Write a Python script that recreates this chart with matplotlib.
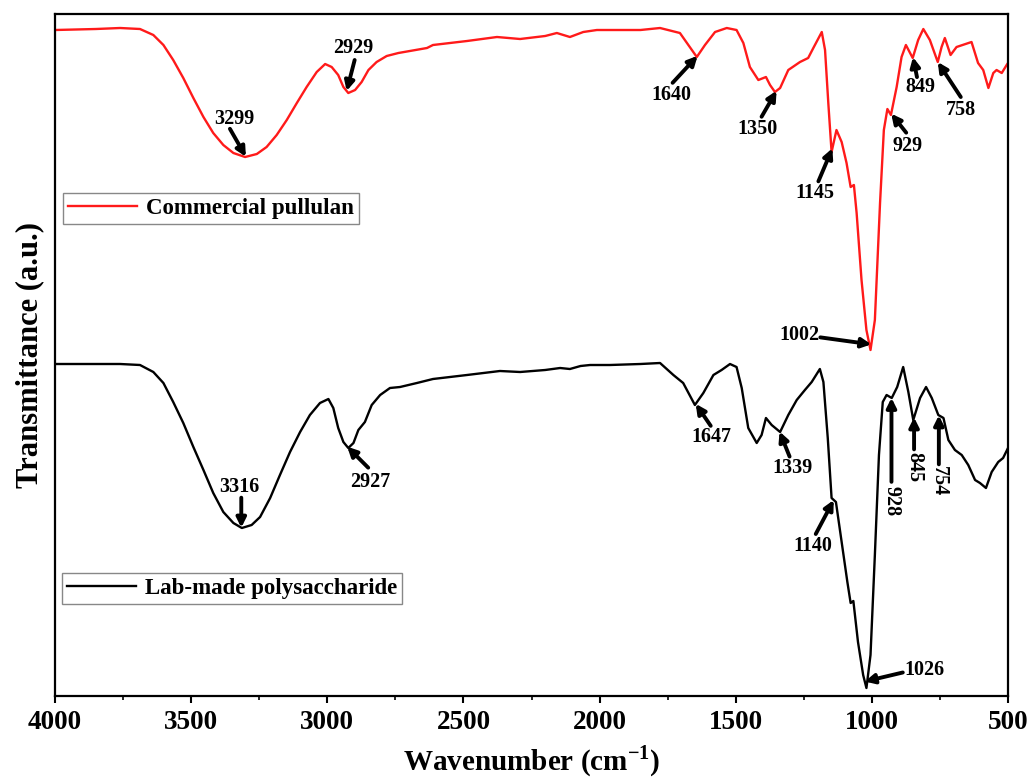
import numpy as np
import matplotlib
matplotlib.use("Agg")
import matplotlib.pyplot as plt

plt.rcParams['font.family'] = ['Liberation Serif', 'DejaVu Serif']
plt.rcParams['font.weight'] = 'bold'
plt.rcParams['mathtext.fontset'] = 'custom'
plt.rcParams['mathtext.rm'] = 'Liberation Serif:bold'
plt.rcParams['mathtext.bf'] = 'Liberation Serif:bold'

# ---- Data (arbitrary transmittance units) ----
pullulan_wn = [4000, 3850, 3761, 3688, 3639, 3602, 3566, 3529, 3492, 3455, 3419, 3382,
               3345, 3302, 3259, 3223, 3186, 3149, 3112, 3076, 3039, 3008, 2984, 2960,
               2941, 2923, 2898, 2874, 2849, 2819, 2782, 2739, 2634, 2612, 2487, 2377,
               2292, 2200, 2157, 2109, 2060, 2010, 1962, 1850, 1778, 1705, 1674, 1643,
               1613, 1576, 1533, 1497, 1472, 1448, 1417, 1389, 1374, 1356, 1337, 1307,
               1264, 1234, 1215, 1184, 1172, 1160, 1148, 1130, 1111, 1093, 1078, 1066,
               1056, 1038, 1020, 1005, 989, 970, 956, 943, 930, 909, 891, 875, 850,
               830, 811, 787, 758, 744, 732, 711, 689, 634, 610, 591, 572, 554, 542,
               523, 505, 500]
pullulan_t = [666, 667, 668, 667, 661, 651, 636, 618, 598, 579, 563, 551,
              543, 539, 542, 549, 561, 576, 593, 609, 624, 632, 629, 621,
              609, 603, 606, 614, 626, 634, 640, 643, 648, 651, 655, 659,
              657, 660, 663, 659, 664, 666, 666, 666, 668, 663, 651, 639,
              651, 664, 668, 666, 653, 629, 616, 619, 611, 604, 608, 626,
              634, 638, 648, 664, 646, 593, 544, 566, 554, 533, 509, 511,
              483, 416, 366, 346, 376, 493, 566, 587, 581, 609, 639, 651, 638,
              656, 667, 656, 634, 649, 658, 641, 649, 654, 633, 626, 608, 623, 626,
              623, 631, 633]

labmade_wn = [4000, 3850, 3761, 3688, 3639, 3602, 3566, 3529, 3492, 3455, 3419, 3382,
              3345, 3314, 3278, 3247, 3210, 3174, 3137, 3100, 3064, 3027, 2996, 2978,
              2960, 2941, 2923, 2904, 2886, 2862, 2837, 2806, 2770, 2733, 2671, 2612,
              2487, 2366, 2292, 2200, 2145, 2109, 2070, 2035, 1962, 1850, 1778, 1729,
              1693, 1650, 1619, 1582, 1552, 1521, 1497, 1478, 1454, 1423, 1405, 1389,
              1368, 1337, 1307, 1276, 1246, 1221, 1191, 1178, 1162, 1148, 1132, 1111,
              1090, 1078, 1068, 1051, 1032, 1020, 1005, 989, 974, 960, 946, 927, 907,
              885, 866, 848, 823, 801, 780, 756, 737, 719, 695, 670, 646, 621, 603,
              581, 560, 536, 518, 500]
labmade_t = [332, 332, 332, 331, 324, 313, 294, 273, 249, 226, 203, 184,
             173, 168, 171, 179, 198, 221, 244, 264, 281, 293, 297, 288,
             268, 254, 248, 253, 266, 274, 291, 301, 308, 309, 313, 317,
             321, 325, 324, 326, 328, 327, 330, 331, 331, 332, 333, 321,
             313, 291, 303, 321, 326, 332, 329, 308, 268, 253, 261, 278,
             271, 264, 281, 296, 306, 314, 327, 314, 258, 198, 194, 154,
             114, 93, 95, 54, 21, 8, 41, 141, 241, 294, 301, 298, 309,
             329, 304, 276, 298, 309, 298, 281, 278, 256, 246, 241, 231, 216, 213,
             208, 224, 234, 238, 248]

x_ticks = [4000, 3500, 3000, 2500, 2000, 1500, 1000, 500]
x_label = r'Wavenumber (cm$^{\mathregular{-1}}$)'
y_label = 'Transmittance (a.u.)'
series_names = ['Commercial pullulan', 'Lab-made polysaccharide']

# peak labels: (label, wavenumber, text offset px, arrow-tail offset px, ha, va, rotation)
pullulan_peaks = [
    ('3299', 3299, (-12, 38), (-16, 28), 'center', 'center', 0),
    ('2929', 2929, (7, 43), (8, 31), 'center', 'center', 0),
    ('1640', 1640, (-26, -39), (-25, -27), 'center', 'center', 0),
    ('1350', 1350, (-19, -38), (-15, -26), 'center', 'center', 0),
    ('1145', 1145, (-18, -45), (-14, -33), 'center', 'center', 0),
    ('1002', 1002, (-52, 9), (-51, 7), 'right', 'center', 0),
    ('929', 929, (16, -32), (15, -19), 'center', 'center', 0),
    ('849', 849, (7, -30), (4, -20), 'center', 'center', 0),
    ('758', 758, (23, -48), (23, -35), 'center', 'center', 0),
]
labmade_peaks = [
    ('3316', 3316, (-2, 41), (0, 30), 'center', 'center', 0),
    ('2927', 2927, (23, -35), (21, -21), 'center', 'center', 0),
    ('1647', 1647, (16, -33), (15, -22), 'center', 'center', 0),
    ('1339', 1339, (13, -36), (10, -25), 'center', 'center', 0),
    ('1140', 1140, (-21, -46), (-18, -34), 'center', 'center', 0),
    ('1026', 1026, (40, 11), (38, 9), 'left', 'center', 0),
    ('928', 928, (0, -88), (0, -84), 'center', 'top', -90),
    ('845', 845, (0, -35), (0, -32), 'center', 'top', -90),
    ('754', 754, (0, -51), (0, -49), 'center', 'top', -90),
]

fig = plt.figure(figsize=(10.29, 7.78), dpi=100)
ax = fig.add_axes([0.0535, 0.1054, 0.9261, 0.8766])

l1, = ax.plot(pullulan_wn, pullulan_t, color='#ff1a1a', lw=1.7, label=series_names[0])
l2, = ax.plot(labmade_wn, labmade_t, color='black', lw=1.7, label=series_names[1])

ax.set_xlim(4000, 500)
ax.set_ylim(0, 682)
ax.set_xticks(x_ticks)
ax.set_xticklabels([str(t) for t in x_ticks])
ax.set_xticks(np.arange(3750, 500, -500), minor=True)
ax.set_yticks([])
ax.tick_params(axis='x', which='major', direction='out', length=5, width=1.5,
               labelsize=19.5, pad=5)
ax.tick_params(axis='x', which='minor', direction='out', length=3, width=1.2)
for lab in ax.get_xticklabels():
    lab.set_fontweight('bold')
for sp in ax.spines.values():
    sp.set_linewidth(1.6)

ax.set_xlabel(x_label, fontsize=21, fontweight='bold', labelpad=6)
ax.set_ylabel(y_label, fontsize=22, fontweight='bold', labelpad=8)


def annotate(peaks, wn, t):
    for lab, w, toff, aoff, ha, va, rot in peaks:
        yv = float(np.interp(-w, -np.asarray(wn), np.asarray(t)))
        ax.annotate('', xy=(w, yv), xytext=aoff, textcoords='offset pixels',
                    arrowprops=dict(arrowstyle='-|>', color='black', lw=2.8,
                                    mutation_scale=14, shrinkA=0, shrinkB=0))
        ax.annotate(lab, xy=(w, yv), xytext=toff, textcoords='offset pixels',
                    ha=ha, va=va, rotation=rot, fontsize=14.5, fontweight='bold')


annotate(pullulan_peaks, pullulan_wn, pullulan_t)
annotate(labmade_peaks, labmade_wn, labmade_t)

leg_kw = dict(fancybox=False, edgecolor='#888888', framealpha=1,
              prop={'size': 16.5, 'weight': 'bold'}, handlelength=3.0,
              borderpad=0.22, handletextpad=0.4, borderaxespad=0)
leg1 = ax.legend(handles=[l1], loc='upper left', bbox_to_anchor=(0.0085, 0.7375), **leg_kw)
ax.add_artist(leg1)
leg2 = ax.legend(handles=[l2], loc='upper left', bbox_to_anchor=(0.0075, 0.1803), **leg_kw)
leg1.get_frame().set_linewidth(1.0)
leg2.get_frame().set_linewidth(1.0)

fig.savefig('out.png', dpi=100)
